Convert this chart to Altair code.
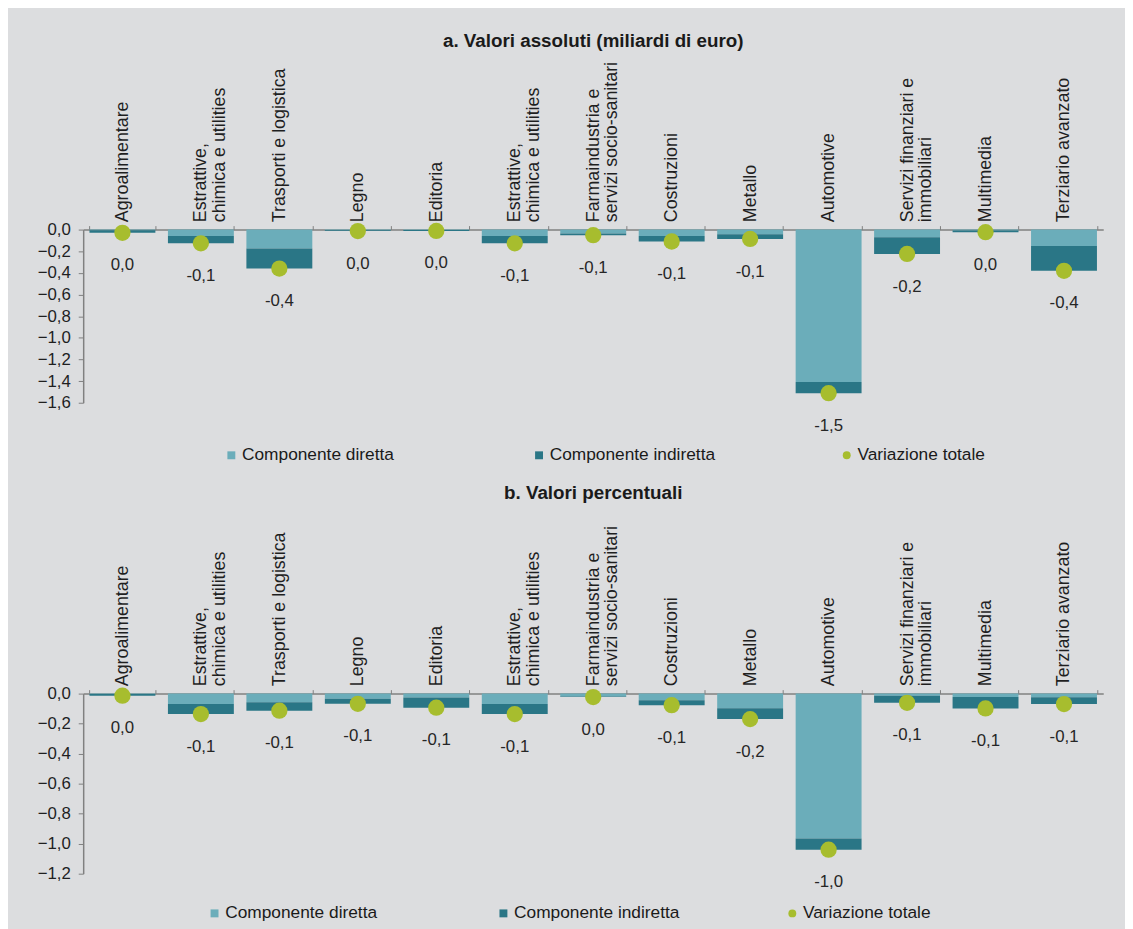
import json
import altair as alt
import pandas as pd

FONT = "Liberation Sans"

categorie = [
    "Agroalimentare",
    "Estrattive,\nchimica e utilities",
    "Trasporti e logistica",
    "Legno",
    "Editoria",
    "Estrattive,\nchimica e utilities",
    "Farmaindustria e\nservizi socio-sanitari",
    "Costruzioni",
    "Metallo",
    "Automotive",
    "Servizi finanziari e\nimmobiliari",
    "Multimedia",
    "Terziario avanzato",
]
serie = ["Componente diretta", "Componente indiretta", "Variazione totale"]
colori = ["#6BADBA", "#2A7686", "#A7BD2E"]

# a. Valori assoluti (miliardi di euro)
a_diretta = [-0.005, -0.060, -0.174, -0.005, -0.004, -0.060, -0.037, -0.060, -0.043, -1.408, -0.070, -0.008, -0.152]
a_indiretta = [-0.025, -0.067, -0.186, -0.008, -0.008, -0.067, -0.015, -0.050, -0.043, -0.104, -0.155, -0.016, -0.229]

# b. Valori percentuali
b_diretta = [-0.003, -0.070, -0.057, -0.035, -0.026, -0.070, -0.020, -0.044, -0.097, -0.965, -0.015, -0.022, -0.024]
b_indiretta = [-0.011, -0.066, -0.057, -0.033, -0.068, -0.066, -0.003, -0.033, -0.073, -0.075, -0.046, -0.077, -0.046]

a_ticks = [0.0, -0.2, -0.4, -0.6, -0.8, -1.0, -1.2, -1.4, -1.6]
b_ticks = [0.0, -0.2, -0.4, -0.6, -0.8, -1.0, -1.2]


def etichetta(v):
    s = f"{v:.1f}"
    if s == "-0.0":
        s = "0.0"
    return s.replace(".", ",")


n_cat = len(categorie)
label_expr = (
    "isValid(datum.value) && datum.value >= 0 && datum.value < " + str(n_cat)
    + " ? split(" + json.dumps(categorie) + "[datum.value], '\\n') : ''"
)
num_expr = "replace(format(datum.value, '.1f'), '.', ',')"


def pannello(titolo, diretta, indiretta, ticks, altezza, legend_x, legend_y, col_pad, title_offset):
    righe = []
    for k in range(n_cat):
        righe.append({"i": k, "serie": serie[0], "ord": 0, "valore": diretta[k]})
        righe.append({"i": k, "serie": serie[1], "ord": 1, "valore": indiretta[k]})
    barre = pd.DataFrame(righe)
    totali = [diretta[k] + indiretta[k] for k in range(n_cat)]
    tot = pd.DataFrame({
        "i": list(range(n_cat)),
        "serie": serie[2],
        "totale": totali,
        "lab": [etichetta(v) for v in totali],
    })

    xscale = alt.Scale(paddingInner=0.16, paddingOuter=0.08)
    yscale = alt.Scale(domain=[min(ticks), 0], nice=False, zero=False)
    x = alt.X(
        "i:O",
        scale=xscale,
        axis=alt.Axis(
            orient="top", title=None, labelAngle=270, labelAlign="left",
            labelBaseline="middle", labelExpr=label_expr, tickBand="extent",
            tickSize=4, labelPadding=4, labelLineHeight=19, labelFontSize=18,
            domainColor="#808080", domainWidth=1.5, tickColor="#808080",
        ),
    )
    y_axis = alt.Axis(
        title=None, values=ticks, labelExpr=num_expr, grid=False,
        tickSize=5, domainColor="#808080", domainWidth=1.5, tickColor="#808080",
        labelPadding=8, labelFontSize=17,
    )
    legenda = alt.Legend(
        title=None, orient="none", direction="horizontal", legendX=legend_x,
        legendY=legend_y, columnPadding=col_pad, symbolSize=64, labelFontSize=17.5,
        labelFont=FONT, labelColor="#1a1a1a", symbolStrokeWidth=0, labelOffset=2,
        labelLimit=400, gridAlign="all",
    )
    color = alt.Color("serie:N", scale=alt.Scale(domain=serie, range=colori), legend=legenda)
    shape = alt.Shape("serie:N", scale=alt.Scale(domain=serie, range=["square", "square", "circle"]), legend=legenda)

    bar = alt.Chart(barre).mark_bar().encode(
        x=x,
        y=alt.Y("valore:Q", stack="zero", scale=yscale, axis=y_axis),
        color=color,
        order=alt.Order("ord:Q"),
    )
    pts = alt.Chart(tot).mark_point(filled=True, opacity=1, size=270).encode(
        x=x,
        y=alt.Y("totale:Q", scale=yscale, axis=y_axis),
        color=color,
        shape=shape,
    )
    txt = alt.Chart(tot).mark_text(dy=33, fontSize=17, font=FONT, color="#262626").encode(
        x=x,
        y=alt.Y("totale:Q", scale=yscale, axis=y_axis),
        text="lab:N",
    )
    return alt.layer(bar, pts, txt).properties(
        width=1031,
        height=altezza,
        title=alt.TitleParams(titolo, offset=title_offset),
    )


pa = pannello("a. Valori assoluti (miliardi di euro)", a_diretta, a_indiretta, a_ticks, 175, 141, 219, 124, 11)
pb = pannello("b. Valori percentuali", b_diretta, b_indiretta, b_ticks, 182, 124, 213, 105, 23)

chart = (
    alt.vconcat(pa, pb, spacing=19)
    .resolve_scale(color="independent", shape="independent")
    .configure(background="#DCDDDF", padding={"left": 29, "top": 18, "right": 22, "bottom": 8}, font=FONT)
    .configure_view(stroke=None)
    .configure_axis(labelFont=FONT, labelColor="#1f1f1f")
    .configure_title(font=FONT, fontSize=19, fontWeight="bold", color="#1a1a1a", anchor="middle")
)

chart.save("out.html", embed_options={"renderer": "svg", "actions": False})
